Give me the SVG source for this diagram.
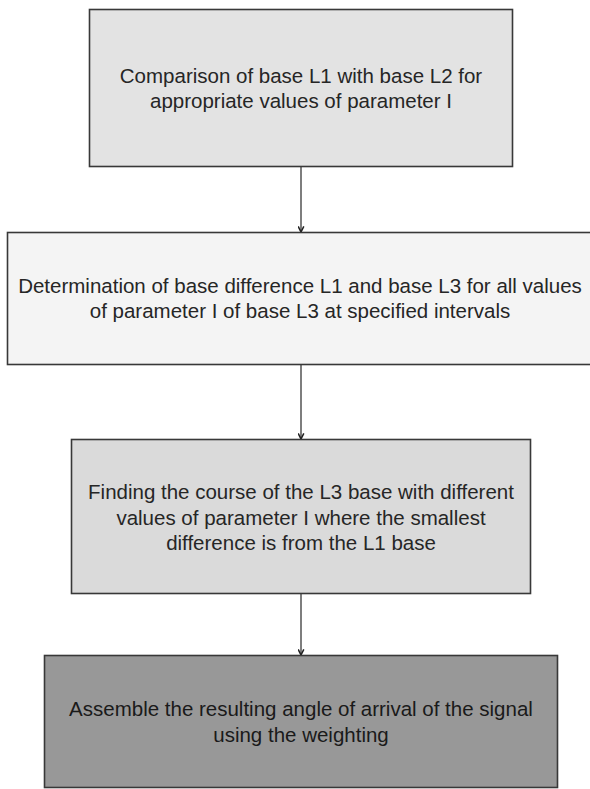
<svg xmlns="http://www.w3.org/2000/svg" width="590" height="789" viewBox="0 0 590 789">
<defs>
<style>
.box{stroke:#383838;stroke-width:1.6}
.lbl{font-family:"Liberation Sans",Arial,sans-serif;font-size:20.5px;fill:#262626;text-anchor:middle}
.conn{stroke:#5e5e5e;stroke-width:1.6;fill:none}
</style>
<marker id="arr" viewBox="0 0 10 10" refX="9" refY="5" markerWidth="7" markerHeight="7" markerUnits="userSpaceOnUse" orient="auto">
<path d="M1,1 L9,5 L1,9" fill="none" stroke="#222" stroke-width="2.2"/>
</marker>
</defs>
<rect width="590" height="789" fill="#ffffff"/>
<g id="connectors">
<line class="conn" x1="301" y1="167" x2="301" y2="232" marker-end="url(#arr)"/>
<line class="conn" x1="301" y1="365" x2="301" y2="439" marker-end="url(#arr)"/>
<line class="conn" x1="301" y1="594" x2="301" y2="655" marker-end="url(#arr)"/>
</g>
<g id="node1">
<rect class="box" x="89.5" y="9.5" width="423" height="157" fill="#e3e3e3"/>
<text class="lbl" x="301" y="83">Comparison of base L1 with base L2 for</text>
<text class="lbl" x="301" y="108">appropriate values of parameter I</text>
</g>
<g id="node2">
<rect class="box" x="7.5" y="232.5" width="588" height="132" fill="#f4f4f4"/>
<text class="lbl" x="300" y="293">Determination of base difference L1 and base L3 for all values</text>
<text class="lbl" x="300" y="318">of parameter I of base L3 at specified intervals</text>
</g>
<g id="node3">
<rect class="box" x="71.5" y="439.5" width="459" height="154" fill="#dadada"/>
<text class="lbl" x="301" y="499">Finding the course of the L3 base with different</text>
<text class="lbl" x="301" y="524.5">values of parameter I where the smallest</text>
<text class="lbl" x="301" y="550">difference is from the L1 base</text>
</g>
<g id="node4">
<rect class="box" x="44.5" y="655.5" width="513" height="132" fill="#989898"/>
<text class="lbl" x="301" y="716" style="fill:#1a1a1a">Assemble the resulting angle of arrival of the signal</text>
<text class="lbl" x="301" y="742" style="fill:#1a1a1a">using the weighting</text>
</g>
</svg>
